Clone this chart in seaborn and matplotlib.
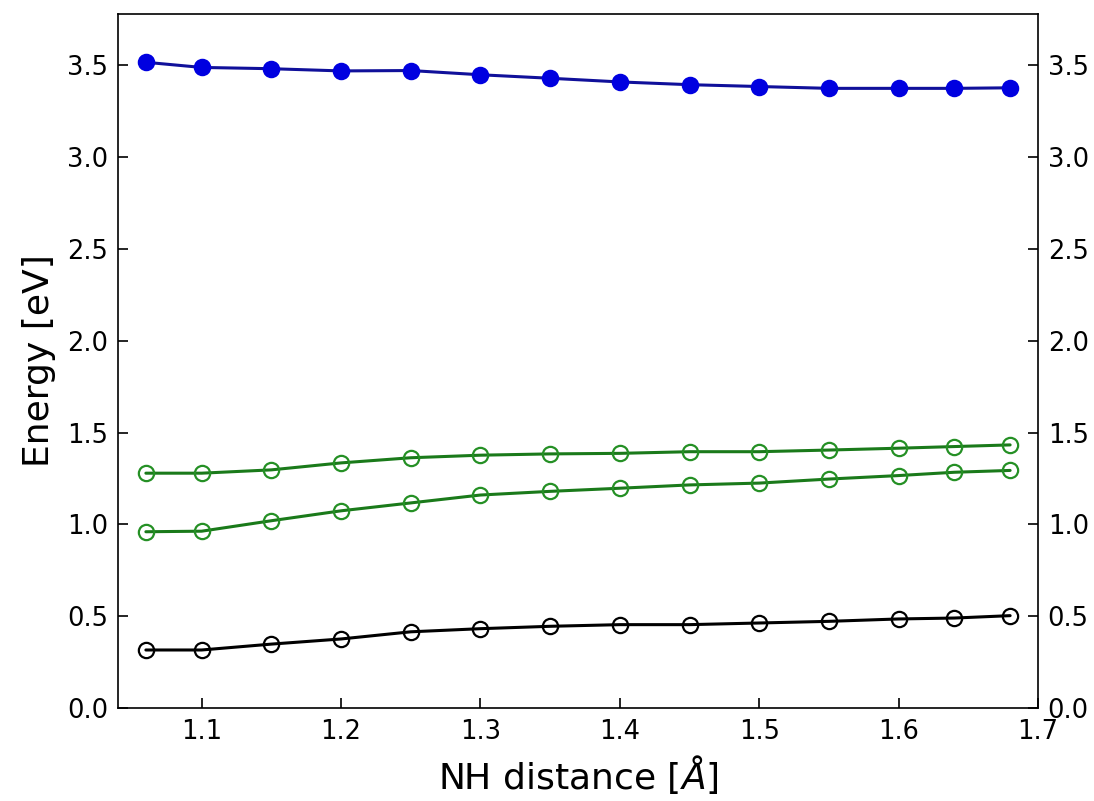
import matplotlib
matplotlib.use("Agg")
import matplotlib.pyplot as plt
import seaborn as sns
import pandas as pd

sns.set_style("ticks")
plt.rcParams['font.family'] = ['DejaVu Sans']
plt.rcParams['text.color'] = 'black'
plt.rcParams['axes.labelcolor'] = 'black'
plt.rcParams['xtick.color'] = 'black'
plt.rcParams['ytick.color'] = 'black'
plt.rcParams['axes.edgecolor'] = 'black'

nh_distance = [1.06, 1.10, 1.15, 1.20, 1.25, 1.30, 1.35, 1.40, 1.45, 1.50, 1.55, 1.60, 1.64, 1.68]
state_blue = [3.517, 3.489, 3.482, 3.470, 3.472, 3.449, 3.430, 3.410, 3.395, 3.385, 3.375, 3.375, 3.375, 3.378]
state_green_upper = [1.279, 1.279, 1.297, 1.335, 1.363, 1.377, 1.384, 1.387, 1.396, 1.396, 1.405, 1.415, 1.424, 1.433]
state_green_lower = [0.960, 0.963, 1.020, 1.074, 1.117, 1.160, 1.180, 1.197, 1.215, 1.225, 1.247, 1.266, 1.284, 1.294]
state_black = [0.316, 0.316, 0.348, 0.376, 0.415, 0.432, 0.445, 0.454, 0.454, 0.463, 0.472, 0.485, 0.490, 0.503]

fig = plt.figure(figsize=(10.94, 8.01), dpi=100)
ax = fig.add_axes([118/1094, 1-708/801, (1038-118)/1094, (708-14)/801])

def draw(y, line_color, marker_color, filled, lw=2.2):
    df = pd.DataFrame({"x": nh_distance, "y": y})
    sns.lineplot(data=df, x="x", y="y", ax=ax, color=line_color, linewidth=lw,
                 marker="o", markersize=11,
                 markerfacecolor=marker_color if filled else "none",
                 markeredgecolor=marker_color, markeredgewidth=1.6)

draw(state_blue, "#10109a", "#0000e0", True)
draw(state_green_upper, "#1a7a1a", "#259025", False)
draw(state_green_lower, "#1a7a1a", "#259025", False)
draw(state_black, "black", "black", False)

ax.set_xlim(1.04, 1.70)
ax.set_ylim(0.0, 3.78)
ax.set_xticks([1.1, 1.2, 1.3, 1.4, 1.5, 1.6, 1.7])
ax.set_yticks([0.0, 0.5, 1.0, 1.5, 2.0, 2.5, 3.0, 3.5])
ax.tick_params(direction="in", right=True, labelright=True, labelsize=18.5,
               length=7, width=1.2)
ax.tick_params(axis="y", pad=7)
ax.tick_params(axis="x", pad=8)
ax.set_xlabel("NH distance [$\\AA$]", fontsize=26, labelpad=6)
ax.set_ylabel("Energy [eV]", fontsize=26, labelpad=8)
for s in ax.spines.values():
    s.set_linewidth(1.2)
    s.set_visible(True)

fig.savefig("out.png", dpi=100)
